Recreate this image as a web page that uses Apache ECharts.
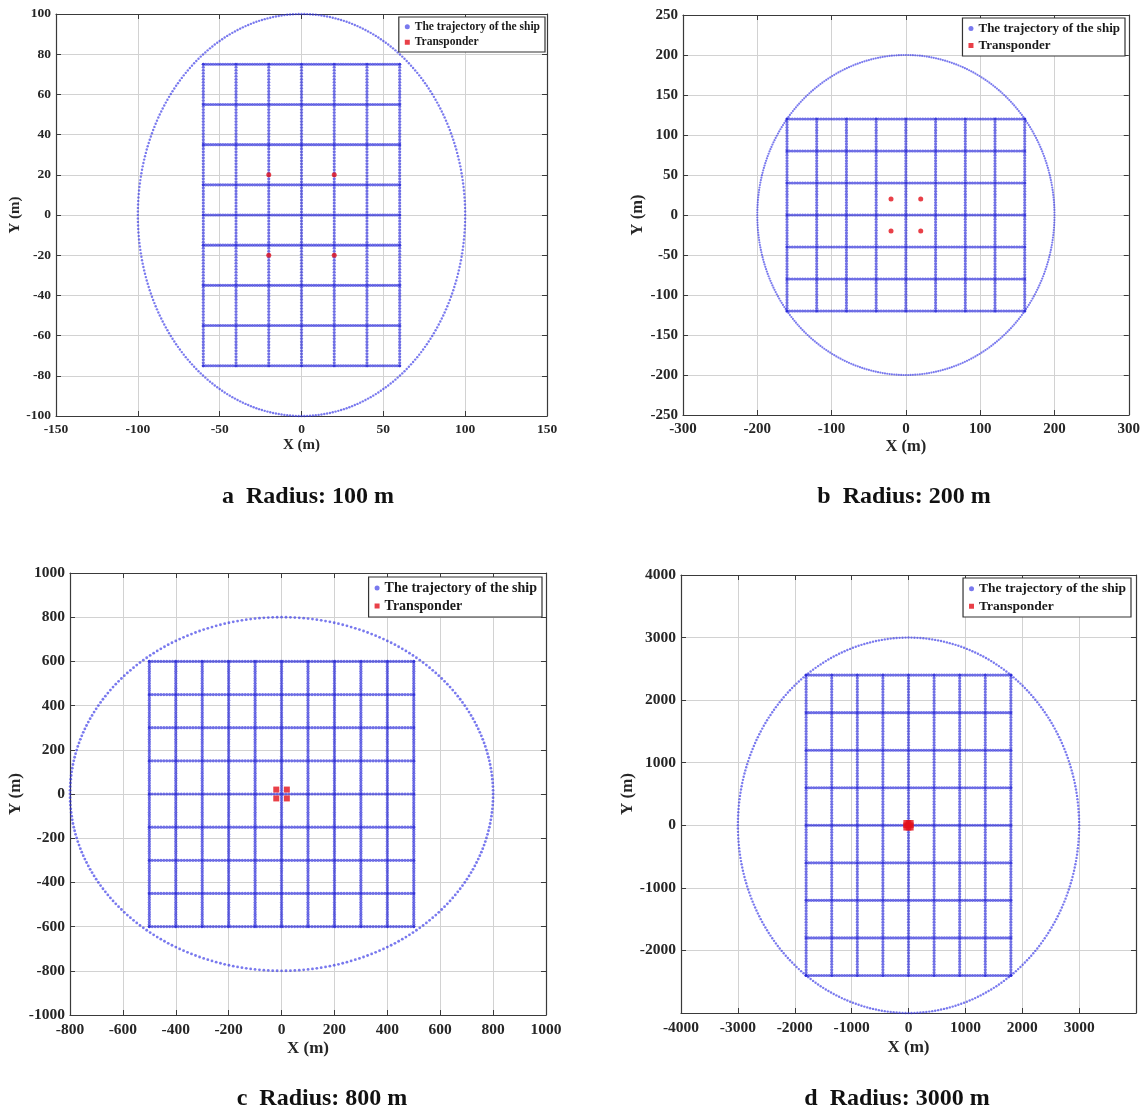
<!DOCTYPE html>
<html>
<head>
<meta charset="utf-8">
<title>Ship trajectories and transponder layout</title>
<script src="https://cdn.jsdelivr.net/npm/echarts@6/dist/echarts.min.js"></script>
<style>
  html, body { margin: 0; padding: 0; background: #ffffff; }
  #chart { width: 1143px; height: 1115px; }
</style>
</head>
<body>
<div id="chart"></div>
<script>
// ---- Survey designs: one panel per circle radius ----
const captions = ['a  Radius: 100 m', 'b  Radius: 200 m', 'c  Radius: 800 m', 'd  Radius: 3000 m'];
const circleRadii = [100, 200, 800, 3000];
// ship fixes recorded on one lap of the circle
const fixesPerLap = [360, 400, 300, 360];
// north-south survey lines (x positions, m)
const surveyLinesX = [
  [-60, -40, -20, 0, 20, 40, 60],
  [-160, -120, -80, -40, 0, 40, 80, 120, 160],
  [-500, -400, -300, -200, -100, 0, 100, 200, 300, 400, 500],
  [-1800, -1350, -900, -450, 0, 450, 900, 1350, 1800]
];
// east-west survey lines (y positions, m)
const surveyLinesY = [
  [-75, -55, -35, -15, 0, 15, 35, 55, 75],
  [-120, -80, -40, 0, 40, 80, 120],
  [-600, -450, -300, -150, 0, 150, 300, 450, 600],
  [-2400, -1800, -1200, -600, 0, 600, 1200, 1800, 2400]
];
// distance between consecutive fixes on straight legs (m)
const legFixSpacing = [1.5, 3.5, 11, 45];
// seabed transponder positions (m)
const transponderX = [-20, 20, -20, 20];
const transponderY = [20, 20, -20, -20];
// axis ranges: [min, max, interval]
const xTicks = [[-150, 150, 50], [-300, 300, 100], [-800, 1000, 200], [-4000, 4000, 1000]];
const yTicks = [[-100, 100, 20], [-250, 250, 50], [-1000, 1000, 200], [-3000, 4000, 1000]];

// ---- Layout and styling per panel ----
const panelBoxes = [
  { left: 56, top: 14, width: 491, height: 402 },
  { left: 683, top: 15, width: 446, height: 400 },
  { left: 70, top: 573, width: 476, height: 442 },
  { left: 681, top: 575, width: 455, height: 438 }
];
const panelStyle = [
  { tick: 13.5, name: 15, xGap: 21, yGap: 30, legendFont: 11.5, legendRight: 598, legendTop: 17, lap: 2.4, leg: 3.1, tp: 5, tpIcon: 'circle', capX: 308, capY: 497 },
  { tick: 15, name: 16.5, xGap: 21, yGap: 35, legendFont: 13, legendRight: 18, legendTop: 18, lap: 2.2, leg: 3.1, tp: 5, tpIcon: 'circle', capX: 904, capY: 497 },
  { tick: 15.5, name: 17, xGap: 25, yGap: 46, legendFont: 14, legendRight: 601, legendTop: 577, lap: 2.8, leg: 3.2, tp: 6, tpIcon: 'rect', capX: 322, capY: 1099 },
  { tick: 15.5, name: 17, xGap: 26, yGap: 44, legendFont: 13.5, legendRight: 12, legendTop: 578, lap: 2.4, leg: 3.1, tp: 8, tpIcon: 'rect', capX: 897, capY: 1099 }
];

const SERIF = '"Liberation Serif", "Times New Roman", serif';
const AXIS_COLOR = '#3a3a3a';
const GRID_COLOR = '#d2d2d2';
const LAP_COLOR = 'rgba(45, 45, 228, 0.8)';
const LEG_COLOR = 'rgba(30, 30, 215, 0.8)';
const TP_COLOR = '#e3101a';
const SHIP_NAME = 'The trajectory of the ship';
const TP_NAME = 'Transponder';

// fixes along a straight leg
function legFixes(x0, y0, x1, y1, step) {
  const len = Math.hypot(x1 - x0, y1 - y0);
  const n = Math.max(1, Math.round(len / step));
  const pts = [];
  for (let k = 0; k <= n; k++) {
    pts.push([x0 + (x1 - x0) * k / n, y0 + (y1 - y0) * k / n]);
  }
  return pts;
}

// fixes around the circle
function lapFixes(r, n) {
  const pts = [];
  for (let k = 0; k < n; k++) {
    const a = 2 * Math.PI * k / n;
    pts.push([r * Math.cos(a), r * Math.sin(a)]);
  }
  return pts;
}

// fixes on the east-west and north-south survey lines
function gridFixes(p) {
  const xs = surveyLinesX[p], ys = surveyLinesY[p];
  const xMin = Math.min(...xs), xMax = Math.max(...xs);
  const yMin = Math.min(...ys), yMax = Math.max(...ys);
  let pts = [];
  ys.forEach(y => { pts = pts.concat(legFixes(xMin, y, xMax, y, legFixSpacing[p])); });
  xs.forEach(x => { pts = pts.concat(legFixes(x, yMin, x, yMax, legFixSpacing[p])); });
  return pts;
}

const option = {
  animation: false,
  backgroundColor: '#ffffff',
  grid: [], xAxis: [], yAxis: [], series: [], legend: [], graphic: []
};

for (let p = 0; p < 4; p++) {
  const st = panelStyle[p];
  option.grid.push(Object.assign({ containLabel: false }, panelBoxes[p]));

  const line = { show: true, onZero: false, lineStyle: { color: AXIS_COLOR, width: 1.2 } };
  const tick = { show: true, inside: true, length: 5, lineStyle: { color: AXIS_COLOR, width: 1 } };
  const label = { show: true, color: '#262626', fontFamily: SERIF, fontWeight: 'bold', fontSize: st.tick, formatter: v => String(v) };
  const nameStyle = { color: '#262626', fontFamily: SERIF, fontWeight: 'bold', fontSize: st.name };

  const [xmin, xmax, xint] = xTicks[p];
  const [ymin, ymax, yint] = yTicks[p];

  option.xAxis.push({
    type: 'value', gridIndex: p, position: 'bottom', min: xmin, max: xmax, interval: xint,
    axisLine: line, axisTick: tick,
    axisLabel: Object.assign({ margin: 7, showMaxLabel: p !== 3 }, label),
    splitLine: { show: true, lineStyle: { color: GRID_COLOR, width: 1 } },
    name: 'X (m)', nameLocation: 'middle', nameGap: st.xGap, nameTextStyle: nameStyle
  });
  option.xAxis.push({
    type: 'value', gridIndex: p, position: 'top', min: xmin, max: xmax, interval: xint,
    axisLine: line, axisTick: tick, axisLabel: { show: false }, splitLine: { show: false }
  });
  option.yAxis.push({
    type: 'value', gridIndex: p, position: 'left', min: ymin, max: ymax, interval: yint,
    axisLine: line, axisTick: tick,
    axisLabel: Object.assign({ margin: 5, showMinLabel: p !== 3 }, label),
    splitLine: { show: true, lineStyle: { color: GRID_COLOR, width: 1 } },
    name: 'Y (m)', nameLocation: 'middle', nameGap: st.yGap, nameRotate: 90, nameTextStyle: nameStyle
  });
  option.yAxis.push({
    type: 'value', gridIndex: p, position: 'right', min: ymin, max: ymax, interval: yint,
    axisLine: line, axisTick: tick, axisLabel: { show: false }, splitLine: { show: false }
  });

  // circular lap of the ship
  option.series.push({
    name: SHIP_NAME, type: 'scatter', xAxisIndex: 2 * p, yAxisIndex: 2 * p,
    symbol: 'circle', symbolSize: st.lap, silent: true,
    itemStyle: { color: LAP_COLOR },
    data: lapFixes(circleRadii[p], fixesPerLap[p])
  });
  // criss-cross survey lines of the ship
  option.series.push({
    name: SHIP_NAME, type: 'scatter', xAxisIndex: 2 * p, yAxisIndex: 2 * p,
    symbol: 'circle', symbolSize: st.leg, silent: true,
    itemStyle: { color: LEG_COLOR },
    data: gridFixes(p)
  });
  option.series.push({
    name: TP_NAME, type: 'scatter', xAxisIndex: 2 * p, yAxisIndex: 2 * p,
    symbol: st.tpIcon, symbolSize: st.tp, silent: true, z: 3,
    itemStyle: { color: TP_COLOR },
    data: transponderX.map((x, i) => [x, transponderY[i]])
  });

  option.legend.push({
    orient: 'vertical', right: st.legendRight, top: st.legendTop,
    backgroundColor: '#ffffff', borderColor: '#333333', borderWidth: 1.2,
    padding: [3, 5, 3, 6], itemGap: 2, itemWidth: 5, itemHeight: 5,
    selectedMode: false,
    textStyle: { fontFamily: SERIF, fontWeight: 'bold', fontSize: st.legendFont, color: '#1a1a1a', lineHeight: st.legendFont + 2 },
    data: [{ name: SHIP_NAME, icon: 'circle' }, { name: TP_NAME, icon: 'rect' }]
  });

  option.graphic.push({
    type: 'text', x: st.capX, y: st.capY, silent: true,
    style: {
      text: captions[p], align: 'center', verticalAlign: 'middle',
      font: 'bold 24px ' + SERIF, fill: '#111111'
    }
  });
}

const chart = echarts.init(document.getElementById('chart'), null, { renderer: 'canvas' });
chart.setOption(option);
</script>
</body>
</html>
